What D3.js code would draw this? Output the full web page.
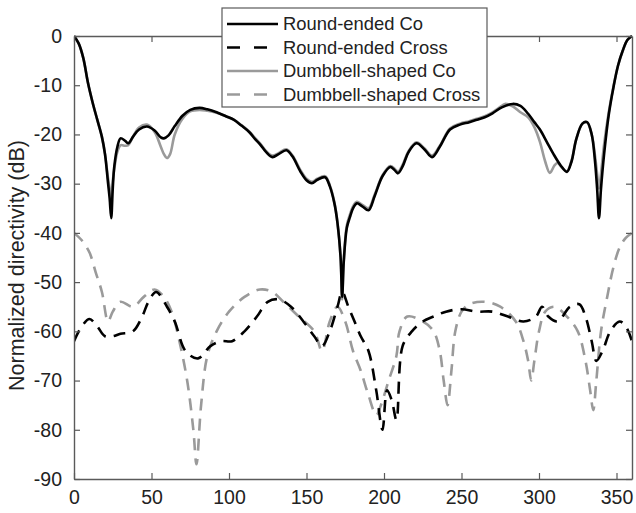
<!DOCTYPE html>
<html>
<head>
<meta charset="utf-8">
<script src="https://cdn.jsdelivr.net/npm/d3@7/dist/d3.min.js"></script>
<style>
  html, body { margin: 0; padding: 0; background: #fff; }
  svg { display: block; font-family: "Liberation Sans", Arial, sans-serif; }
</style>
</head>
<body>
<svg id="chart" width="636" height="513"></svg>
<script>
// Angle axis (degrees) and normalized directivity (dB) for each pattern cut.
const xTicks = [0, 50, 100, 150, 200, 250, 300, 350];
const yTicks = [0, -10, -20, -30, -40, -50, -60, -70, -80, -90];

const roundCoAngle = [0,3,6,9,12,15,18,20,22,23,24,25,26,28,30,33,35,38,42,47,52,56,58,61,65,70,75,81,86,92,98,103,108,113,117,120,124,128,132,137,141,146,150,153.5,157,162,165,168,170,172,173,174,176,178,180,182.5,186,190,194,199,204,207,209,212,216,221,226,231,236,242.6,249,255,260,265,270,276,283,288,293,297,300.6,305,309,314,318,321,324,328,331,334,336,337.5,338.7,340,342,345,348,351,354,357,360];
const roundCoDB = [0,-1.5,-4.5,-9.5,-13.5,-17,-20.5,-24,-30,-33,-37,-31,-26.5,-22.5,-20.8,-21.3,-21.8,-20.5,-19,-18.4,-19.2,-20.6,-20.8,-20.2,-18.3,-16.2,-15,-14.6,-14.9,-15.5,-16.3,-17,-18.2,-19.5,-21,-22,-23.6,-24.6,-24,-23.2,-24.5,-27.5,-29.3,-29.9,-29.2,-28.7,-30.5,-34,-38,-45,-53,-46,-39,-36.8,-35,-34,-34.6,-35.4,-32.5,-28.5,-26.6,-27.3,-27.9,-26.5,-23.5,-21.8,-23,-24.6,-22.5,-19,-18,-17.5,-17,-16.5,-15.7,-14.5,-13.8,-14.2,-15.8,-17.5,-19,-21.5,-23.8,-26.3,-27.6,-25.5,-21,-17.8,-17.5,-20,-25,-31,-37,-31,-24,-16,-10.5,-6,-3,-0.8,0];

const roundCrossAngle = [0,5,10,15,20,25,30,38,44,48,53,60,65,72,80,88,95,102,110,118,125,132,140,148,155,160,165,170,173,177,181,185,190,195,199,202,205,208,212,218,225,232,240,250,260,270,280,290,298,302,306,312,320,326,330,334,337,341,346,352,356,360];
const roundCrossDB = [-62,-59,-57.5,-59,-61,-61,-60.5,-60,-57,-54,-52,-55,-58,-64,-65.5,-63,-62,-62,-60,-57,-54,-53.5,-55,-58,-61,-63,-60,-55,-52,-55,-58,-61,-64,-72,-80,-72,-74,-78,-63,-60,-58,-57,-56,-55.5,-56,-56,-57,-58,-57,-55,-57,-58,-55,-54.5,-57,-62,-66,-64,-60,-58,-59,-62];

const dumbCoAngle = [0,3,6,9,12,15,18,20,22,23,24,25,26,28,30,33,35,38,42,47,52,56,58,60,62,65,70,75,81,86,92,98,103,108,113,117,120,124,128,132,137,141,146,150,153.5,157,162,165,168,170,172,173,174,176,178,180,182.5,186,190,194,199,204,207,209,212,216,221,226,231,236,242.6,249,255,260,265,270,276,278,283,288,293,297,300.6,304,307,310,312,315,318,321,324,328,331,334,336,337.5,338.7,340,342,345,348,351,354,357,360];
const dumbCoDB = [0,-1.5,-4.5,-9.5,-13.5,-17,-20.5,-24,-29,-31,-33,-29.5,-27,-23.5,-22.2,-22.3,-22.2,-20.5,-18.6,-18,-19.5,-22.5,-24,-24.8,-24,-20,-16.8,-15.3,-15,-15.2,-15.6,-16.3,-17,-18.1,-19.4,-20.8,-21.8,-23.4,-24.3,-23.8,-23,-24.3,-27.2,-29,-29.6,-29,-28.5,-30.3,-33.8,-38,-45,-53.5,-46,-38.5,-36.3,-34.6,-33.7,-34.3,-35,-32.2,-28.3,-26.4,-27,-27.6,-26.2,-23.3,-21.6,-22.8,-24.3,-22.3,-18.8,-17.8,-17.3,-16.8,-16.3,-15.5,-14.2,-13.8,-14.3,-15.5,-16.5,-18.5,-21.5,-25.5,-27.8,-26.3,-25.8,-26.8,-27.5,-25.3,-21,-17.8,-17.5,-20,-24,-28,-31,-28,-22,-15.5,-10.3,-6,-3,-0.8,0];

const dumbCrossAngle = [0,5,10,14,18,22,25,30,38,45,52,58,63,68,73,77,79,82,86,92,100,110,120,128,135,145,155,160,165,170,175,180,185,190,195,198,203,208,210,215,225,232,236,238.5,241,243.5,246,250,255,265,275,285,290,293,295,297,300,304,310,318,325,330,333,335,337,340,344,348,352,356,360];
const dumbCrossDB = [-40,-41.5,-44,-48,-52,-58,-56,-54,-55,-53,-51.5,-53,-56,-62,-70,-80,-87,-75,-65,-60,-56,-53,-51.5,-52,-54,-57,-60,-64,-58,-55,-58,-64,-68,-73,-77,-75,-70,-65,-60,-57,-58,-60,-64,-70,-75,-68,-60,-56,-54.5,-54,-55,-58,-62,-66,-70,-66,-60,-56,-55,-57,-60,-66,-72,-76,-70,-60,-53,-47,-43,-41,-40];

const series = [
  { name: "Round-ended Co",        angle: roundCoAngle,    db: roundCoDB,    color: "#000000", dash: null },
  { name: "Round-ended Cross",     angle: roundCrossAngle, db: roundCrossDB, color: "#000000", dash: "12,8" },
  { name: "Dumbbell-shaped Co",    angle: dumbCoAngle,     db: dumbCoDB,     color: "#9a9a9a", dash: null },
  { name: "Dumbbell-shaped Cross", angle: dumbCrossAngle,  db: dumbCrossDB,  color: "#9a9a9a", dash: "12,8" }
];
// draw order: crosses below, co-pol on top (black co last so it shows over grey)
const drawOrder = [3, 1, 2, 0];

const svg = d3.select("#chart");
const m = { left: 74, right: 632, top: 36, bottom: 479 };

const x = d3.scaleLinear().domain([0, 360]).range([m.left, m.right]);
const y = d3.scaleLinear().domain([-90, 0]).range([m.bottom, m.top]);

const axisColor = "#5a5a5a";
const textColor = "#222";
const tickFont = "19.5px";
const fmt = d => String(d); // plain hyphen-minus labels

// clip path for the curves
svg.append("defs").append("clipPath").attr("id", "plotClip")
  .append("rect").attr("x", m.left).attr("y", m.top - 2)
  .attr("width", m.right - m.left).attr("height", m.bottom - m.top + 4);

const line = d3.line()
  .x(d => x(d[0]))
  .y(d => y(d[1]))
  .curve(d3.curveCatmullRom.alpha(0.5));

const curves = svg.append("g").attr("clip-path", "url(#plotClip)");
drawOrder.forEach(i => {
  const s = series[i];
  const pts = s.angle.map((a, k) => [a, s.db[k]]);
  curves.append("path")
    .datum(pts)
    .attr("d", line)
    .attr("fill", "none")
    .attr("stroke", s.color)
    .attr("stroke-width", 2.6)
    .attr("stroke-linejoin", "round")
    .attr("stroke-dasharray", s.dash);
});

// axes (box with inward ticks on all four sides)
const tickLen = 6;
const styleAxis = g => {
  g.select(".domain").attr("stroke", axisColor).attr("stroke-width", 1.4);
  g.selectAll(".tick line").attr("stroke", axisColor).attr("stroke-width", 1.2);
  g.selectAll(".tick text").attr("fill", textColor).style("font-size", tickFont)
    .style("font-family", "'Liberation Sans', Arial, sans-serif");
};

svg.append("g").attr("transform", `translate(0,${m.bottom})`)
  .call(d3.axisBottom(x).tickValues(xTicks).tickFormat(fmt).tickSize(-tickLen).tickPadding(9).tickSizeOuter(0))
  .call(styleAxis)
  .call(g => g.selectAll(".tick text").attr("dy", "0.8em"));

svg.append("g").attr("transform", `translate(0,${m.top})`)
  .call(d3.axisTop(x).tickValues(xTicks).tickSize(-tickLen).tickFormat("").tickSizeOuter(0))
  .call(styleAxis);

svg.append("g").attr("transform", `translate(${m.left},0)`)
  .call(d3.axisLeft(y).tickValues(yTicks).tickFormat(fmt).tickSize(-tickLen).tickPadding(12).tickSizeOuter(0))
  .call(styleAxis);

svg.append("g").attr("transform", `translate(${m.right},0)`)
  .call(d3.axisRight(y).tickValues(yTicks).tickSize(-tickLen).tickFormat("").tickSizeOuter(0))
  .call(styleAxis);

// y axis title
svg.append("text")
  .attr("transform", `translate(24,${(m.top + m.bottom) / 2 + 8}) rotate(-90)`)
  .attr("text-anchor", "middle")
  .attr("fill", textColor)
  .style("font-size", "21.5px")
  .text("Normalized directivity (dB)");

// legend
const lg = svg.append("g").attr("transform", "translate(222,8)");
lg.append("rect").attr("width", 265).attr("height", 99)
  .attr("fill", "#fff").attr("stroke", axisColor).attr("stroke-width", 1.2);
series.forEach((s, i) => {
  const cy = 16 + i * 23.5;
  lg.append("line").attr("x1", 5).attr("x2", s.dash ? 45 : 56).attr("y1", cy).attr("y2", cy)
    .attr("stroke", s.color).attr("stroke-width", 2.6)
    .attr("stroke-dasharray", s.dash ? "13,14" : null);
  lg.append("text").attr("x", 61).attr("y", cy).attr("dy", "0.35em")
    .attr("fill", textColor).style("font-size", "18.4px").text(s.name);
});
</script>
</body>
</html>
